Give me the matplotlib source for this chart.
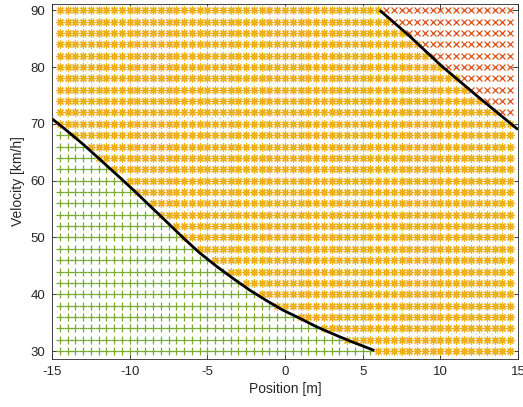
import numpy as np
import matplotlib
matplotlib.use("Agg")
import matplotlib.pyplot as plt

# Grid of evaluated states
positions = np.arange(-14.5, 14.5 + 0.01, 0.5)      # m
velocities = np.arange(30, 90 + 0.01, 2)            # km/h

# Lower boundary curve
lower_x = [-15.0, -14.0, -12.95, -11.9, -10.81, -9.7, -8.67, -7.6, -6.54, -5.5, -4.40,
           -3.3, -2.26, -1.2, -0.13, 1.0, 2.01, 3.1, 4.15, 5.0, 5.75]
lower_y = [70.9, 68.7, 66.3, 63.7, 61.0, 58.2, 55.5, 52.7, 49.9, 47.3, 44.9,
           42.7, 40.7, 38.9, 37.2, 35.7, 34.3, 33.0, 31.8, 30.9, 30.1]

# Upper boundary curve
upper_x = [6.1, 8.0, 10.03, 12.5, 15.0]
upper_y = [90.0, 85.5, 80.3, 74.6, 69.0]

X, Y = np.meshgrid(positions, velocities)
Xf, Yf = X.ravel(), Y.ravel()
low = np.interp(Xf, lower_x, lower_y, left=np.inf, right=-np.inf)
up = np.interp(Xf, upper_x, upper_y, left=np.inf, right=np.inf)
green = Yf < low
red = Yf > up
orange = ~green & ~red

C_GREEN = (0.466, 0.674, 0.188)
C_ORANGE = (0.929, 0.694, 0.125)
C_RED = (0.850, 0.325, 0.098)
AX_C = (0.15, 0.15, 0.15)

plt.rcParams['font.family'] = ['Liberation Sans', 'DejaVu Sans']
plt.rcParams['axes.unicode_minus'] = False
fig = plt.figure(figsize=(5.23, 4.07), dpi=100)
ax = fig.add_axes([52/523, 1-359/407, (518-52)/523, (359-4)/407])

ax.grid(True, color=AX_C, alpha=0.15, linewidth=0.6)
ax.set_axisbelow(True)

ax.plot(Xf[green], Yf[green], '+', color=C_GREEN, ms=5.8, mew=0.9, ls='none')
ax.plot(Xf[orange], Yf[orange], marker=(8, 2, 0), color=C_ORANGE, ms=5.8, mew=0.9, ls='none')
ax.plot(Xf[red], Yf[red], 'x', color=C_RED, ms=4.3, mew=0.9, ls='none')

ax.plot(lower_x, lower_y, color='black', lw=2.0, solid_capstyle='butt', solid_joinstyle='round')
ax.plot(upper_x, upper_y, color='black', lw=2.0, solid_capstyle='butt', solid_joinstyle='round')

ax.set_xlim(-15, 15)
ax.set_ylim(28.6, 91.1)
ax.set_xticks(np.arange(-15, 16, 5))
ax.set_yticks(np.arange(30, 91, 10))

for s in ax.spines.values():
    s.set_color(AX_C)
    s.set_linewidth(0.6)
ax.tick_params(direction='in', length=4, width=0.6, colors=AX_C, labelsize=9.5,
               top=True, right=True, pad=5)
ax.set_xlabel('Position [m]', fontsize=10, color=AX_C, labelpad=3)
ax.set_ylabel('Velocity [km/h]', fontsize=10, color=AX_C, labelpad=4)

fig.savefig('out.png', dpi=100)
